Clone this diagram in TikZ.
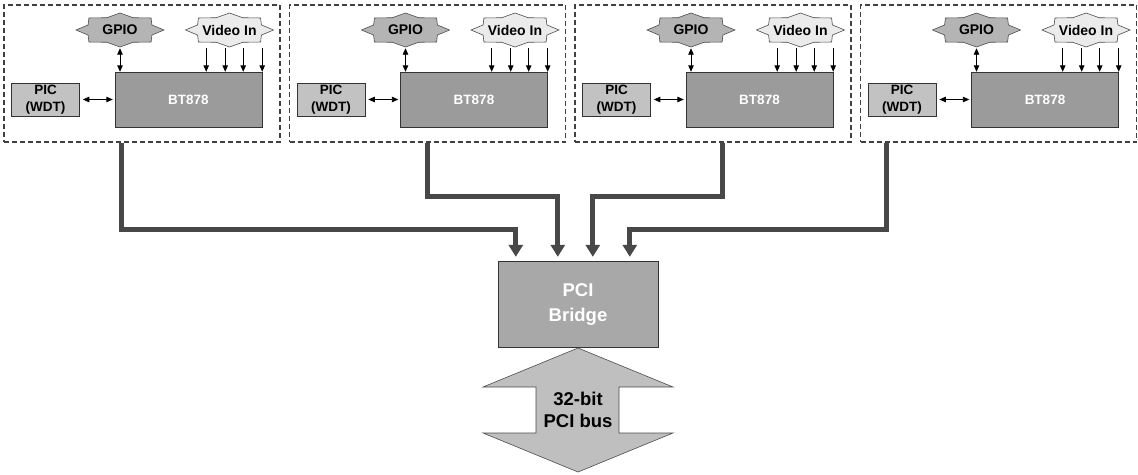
\documentclass[tikz,border=0pt]{standalone}
\usepackage{fontspec}
\setmainfont{Liberation Sans}
\usetikzlibrary{arrows.meta,positioning,calc}

\definecolor{chipgray}{HTML}{9B9B9B}
\definecolor{wdtgray}{HTML}{C2C2C2}
\definecolor{gpiogray}{HTML}{B4B4B4}
\definecolor{vidgray}{HTML}{EBEBEB}
\definecolor{bridgegray}{HTML}{A8A8A8}
\definecolor{busgray}{HTML}{BFBFBF}
\definecolor{feedgray}{HTML}{484848}

\begin{document}
\begin{tikzpicture}[
  x=1pt,y=-1pt,
  panel/.style={draw=black!75,dash pattern=on 5pt off 3pt,line width=1.1pt,minimum width=276pt,minimum height=137pt,inner sep=0pt},
  chip/.style={draw=black!80,fill=chipgray,text=white,font=\bfseries\fontsize{13.5}{15}\selectfont,minimum width=147pt,minimum height=55pt,inner sep=0pt},
  wdtbox/.style={draw=black!80,fill=wdtgray,align=center,font=\bfseries\fontsize{13.5}{16.5}\selectfont,minimum width=68pt,minimum height=33pt,inner sep=0pt},
  burst/.style={draw=black!70,line width=0.6pt,line join=miter},
  lbl/.style={font=\bfseries\fontsize{14}{16}\selectfont,inner sep=0pt,minimum width=88pt,minimum height=34pt},
  sig/.style={-{Triangle[width=5.5pt,length=6.5pt]},line width=0.9pt},
  dsig/.style={{Triangle[width=5.5pt,length=6.5pt]}-{Triangle[width=5.5pt,length=6.5pt]},line width=0.9pt},
  feed/.style={-{Triangle[width=14pt,length=12pt]},line width=5pt,draw=feedgray,line join=miter,shorten >=4pt},
  bridgebox/.style={draw=black!80,fill=bridgegray,text=white,align=center,font=\bfseries\fontsize{18.5}{25}\selectfont,minimum width=160pt,minimum height=86pt,inner sep=0pt},
  busarrow/.style={draw=black!70,fill=busgray,line width=0.6pt,line join=miter}
]
\useasboundingbox (0,0) rectangle (1138,474);

% the four capture boards
\foreach \i/\drop in {1/118,2/138.5,3/148,4/26.5}{
  \pgfmathsetmacro\xo{4+285.5*(\i-1)}
  \node[panel] (panel\i) at (\xo+138,73.5) {};
  \node[chip] (bt\i) at (\xo+184.5,99.5) {BT878};
  \node[wdtbox,left=35pt of bt\i] (wdt\i) {PIC\\(WDT)};
  % GPIO and video input bursts
  \coordinate (gc\i) at (\xo+116,30);
  \coordinate (vc\i) at (\xo+225.5,30);
  \draw[burst,fill=gpiogray] ($(gc\i)+(0:44 and 17)$)
    foreach \a/\b in {22.5/45,67.5/90,112.5/135,157.5/180,202.5/225,247.5/270,292.5/315,337.5/360}
    { -- ($(gc\i)+(\a:34.5 and 13.3)$) -- ($(gc\i)+(\b:44 and 17)$) } -- cycle;
  \draw[burst,fill=vidgray] ($(vc\i)+(0:44 and 17)$)
    foreach \a/\b in {22.5/45,67.5/90,112.5/135,157.5/180,202.5/225,247.5/270,292.5/315,337.5/360}
    { -- ($(vc\i)+(\a:34.5 and 13.3)$) -- ($(vc\i)+(\b:44 and 17)$) } -- cycle;
  \node[lbl] (gpio\i) at (gc\i) {GPIO};
  \node[lbl] (vid\i) at (vc\i) {Video In};
  \draw[dsig,shorten <=1pt] (gpio\i.south) -- (gpio\i.south |- bt\i.north);
  \foreach \d in {0,19,37,56}
    \draw[sig,shorten <=1pt] ([xshift=-\d pt]bt\i.north east |- vid\i.south) -- ([xshift=-\d pt]bt\i.north east);
  \draw[dsig,shorten <=3pt,shorten >=2pt] (wdt\i.east) -- (wdt\i.east -| bt\i.west);
  \coordinate (drop\i) at ([xshift=\drop pt]panel\i.south west);
}

\node[bridgebox] (bridge) at (578,304) {PCI\\Bridge};

% feeds into the bridge
\foreach \i/\ex/\up in {1/18/31,2/60/64,3/95/64,4/132/31}{
  \coordinate (in\i) at ([xshift=\ex pt]bridge.north west);
  \draw[feed] (drop\i) |- ([yshift=\up pt]in\i) -- (in\i);
}

% PCI bus
\coordinate (busc) at (578,410);
\draw[busarrow] (busc) ++(0,-62) -- ++(-95,39) -- ++(53,0) -- ++(0,46) -- ++(-53,0)
  -- ++(95,39) -- ++(95,-39) -- ++(-54,0) -- ++(0,-46) -- ++(54,0) -- cycle;
\node[align=center,font=\bfseries\fontsize{18.5}{22.5}\selectfont] (bus) at (busc) {32-bit\\PCI bus};
\end{tikzpicture}
\end{document}
